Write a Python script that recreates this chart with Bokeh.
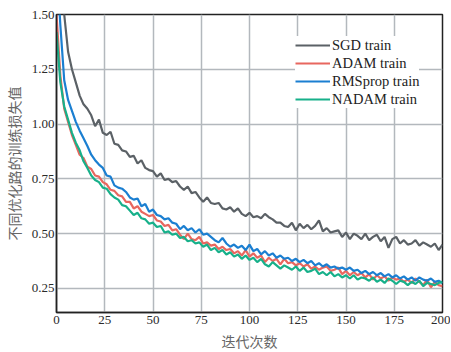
from bokeh.plotting import figure
from bokeh.models import Range1d, FixedTicker, NumeralTickFormatter, Legend, LegendItem
from bokeh.embed import file_html
from bokeh.resources import INLINE

epochs = list(range(0, 201, 2))

sgd = [1.80, 1.62, 1.50, 1.33, 1.25, 1.19, 1.13, 1.09, 1.07, 1.04,
       0.99, 1.02, 0.96, 0.95, 0.965, 0.91, 0.905, 0.88, 0.875, 0.85,
       0.855, 0.82, 0.835, 0.80, 0.79, 0.785, 0.76, 0.775, 0.745, 0.75,
       0.735, 0.74, 0.715, 0.70, 0.715, 0.685, 0.69, 0.665, 0.645, 0.665,
       0.64, 0.635, 0.64, 0.615, 0.61, 0.62, 0.60, 0.615, 0.59, 0.58,
       0.595, 0.575, 0.58, 0.57, 0.59, 0.575, 0.565, 0.55, 0.55, 0.535,
       0.53, 0.55, 0.515, 0.545, 0.525, 0.54, 0.52, 0.535, 0.56, 0.51,
       0.525, 0.505, 0.51, 0.515, 0.485, 0.505, 0.475, 0.50, 0.49, 0.475,
       0.50, 0.47, 0.485, 0.495, 0.465, 0.485, 0.435, 0.475, 0.485, 0.455,
       0.47, 0.45, 0.455, 0.47, 0.445, 0.46, 0.45, 0.44, 0.455, 0.425,
       0.45]

adam = [1.50, 1.22, 1.07, 1.01, 0.95, 0.905, 0.86, 0.845, 0.805, 0.795,
        0.765, 0.76, 0.735, 0.725, 0.70, 0.695, 0.675, 0.67, 0.645, 0.645,
        0.615, 0.625, 0.60, 0.59, 0.58, 0.585, 0.56, 0.555, 0.535, 0.54,
        0.515, 0.52, 0.495, 0.475, 0.50, 0.475, 0.47, 0.485, 0.455, 0.46,
        0.445, 0.45, 0.43, 0.44, 0.425, 0.43, 0.41, 0.42, 0.40, 0.425,
        0.395, 0.41, 0.39, 0.40, 0.37, 0.39, 0.375, 0.385, 0.36, 0.385,
        0.365, 0.37, 0.355, 0.365, 0.35, 0.36, 0.34, 0.35, 0.335, 0.345,
        0.35, 0.33, 0.335, 0.345, 0.315, 0.33, 0.31, 0.325, 0.31, 0.32,
        0.30, 0.315, 0.29, 0.31, 0.295, 0.305, 0.285, 0.30, 0.29, 0.295,
        0.28, 0.29, 0.275, 0.295, 0.28, 0.265, 0.29, 0.255, 0.28, 0.265,
        0.26]

rmsprop = [1.75, 1.45, 1.20, 1.11, 1.06, 1.01, 0.97, 0.935, 0.90, 0.86,
           0.835, 0.815, 0.80, 0.765, 0.76, 0.72, 0.71, 0.705, 0.69, 0.665,
           0.655, 0.66, 0.625, 0.635, 0.60, 0.61, 0.585, 0.58, 0.565, 0.57,
           0.55, 0.545, 0.52, 0.535, 0.515, 0.525, 0.505, 0.52, 0.495, 0.50,
           0.485, 0.47, 0.46, 0.48, 0.455, 0.44, 0.45, 0.435, 0.445, 0.425,
           0.45, 0.42, 0.43, 0.405, 0.42, 0.40, 0.41, 0.39, 0.40, 0.385,
           0.39, 0.375, 0.385, 0.37, 0.38, 0.365, 0.375, 0.355, 0.365, 0.35,
           0.36, 0.345, 0.35, 0.34, 0.345, 0.335, 0.345, 0.33, 0.335, 0.32,
           0.33, 0.315, 0.325, 0.31, 0.32, 0.305, 0.315, 0.30, 0.31, 0.295,
           0.305, 0.29, 0.30, 0.285, 0.30, 0.29, 0.285, 0.295, 0.28, 0.285,
           0.275]

nadam = [1.42, 1.19, 1.08, 1.02, 0.96, 0.915, 0.88, 0.83, 0.80, 0.765,
         0.745, 0.735, 0.71, 0.705, 0.68, 0.665, 0.655, 0.63, 0.625, 0.605,
         0.585, 0.595, 0.57, 0.565, 0.545, 0.55, 0.53, 0.535, 0.505, 0.51,
         0.495, 0.50, 0.48, 0.485, 0.465, 0.47, 0.455, 0.46, 0.44, 0.45,
         0.425, 0.435, 0.415, 0.425, 0.405, 0.415, 0.395, 0.405, 0.385, 0.40,
         0.38, 0.39, 0.37, 0.385, 0.36, 0.35, 0.37, 0.355, 0.34, 0.355,
         0.345, 0.335, 0.35, 0.33, 0.345, 0.325, 0.33, 0.34, 0.315, 0.325,
         0.31, 0.325, 0.305, 0.315, 0.30, 0.31, 0.295, 0.31, 0.29, 0.30,
         0.295, 0.285, 0.30, 0.28, 0.29, 0.275, 0.295, 0.285, 0.27, 0.285,
         0.28, 0.265, 0.28, 0.27, 0.285, 0.26, 0.275, 0.27, 0.265, 0.275,
         0.28]

series_names = ["SGD train", "ADAM train", "RMSprop train", "NADAM train"]
x_ticks = [0, 25, 50, 75, 100, 125, 150, 175, 200]
y_ticks = [0.25, 0.50, 0.75, 1.00, 1.25, 1.50]

colors = ["#5b6166", "#e8675f", "#1b7fd1", "#17b08a"]

SERIF = "Liberation Serif"
CJK = "Noto Sans CJK SC"

p = figure(frame_width=386, frame_height=298, output_backend="svg", toolbar_location=None,
           x_range=Range1d(0, 200), y_range=Range1d(0.14, 1.5),
           min_border_left=55, min_border_right=8, min_border_top=14, min_border_bottom=38)

p.background_fill_color = "white"
p.border_fill_color = "white"
p.outline_line_color = "#222222"
p.outline_line_width = 1.5

for ax in (p.xaxis[0], p.yaxis[0]):
    ax.axis_line_color = "#222222"
    ax.axis_line_width = 1.5
    ax.major_tick_in = 0
    ax.major_tick_out = 0
    ax.minor_tick_line_color = None
    ax.major_label_text_font = SERIF
    ax.major_label_text_font_size = "13px"
    ax.major_label_text_color = "#2a2a2a"
    ax.axis_label_text_font = CJK
    ax.axis_label_text_font_size = "14px"
    ax.axis_label_text_font_style = "normal"
    ax.axis_label_text_color = "#666666"

p.xaxis.ticker = FixedTicker(ticks=x_ticks)
p.yaxis.ticker = FixedTicker(ticks=y_ticks)
p.yaxis.formatter = NumeralTickFormatter(format="0.00")
p.xaxis.major_label_standoff = 3
p.yaxis.major_label_standoff = 2
p.xaxis.axis_label = "迭代次数"
p.yaxis.axis_label = "不同优化路的训练损失值"
p.xaxis.axis_label_standoff = 4
p.yaxis.axis_label_standoff = 5

p.grid.grid_line_color = "#b3b8bd"
p.grid.grid_line_width = 1.5

renderers = []
for vals, c in zip([sgd, adam, rmsprop, nadam], colors):
    r = p.line(epochs, vals, line_color=c, line_width=2.2)
    renderers.append(r)

legend = Legend(items=[LegendItem(label=n, renderers=[r]) for n, r in zip(series_names, renderers)],
                location=(239, 204))
legend.label_text_font = SERIF
legend.label_text_font_size = "14.5px"
legend.label_text_color = "#222222"
legend.border_line_color = None
legend.background_fill_color = "white"
legend.background_fill_alpha = 1
legend.padding = 2
legend.margin = 0
legend.spacing = 0
legend.glyph_width = 35
legend.glyph_height = 18
legend.label_height = 18
legend.label_standoff = 2
p.add_layout(legend, "center")

open("out.html", "w").write(file_html(p, INLINE))
